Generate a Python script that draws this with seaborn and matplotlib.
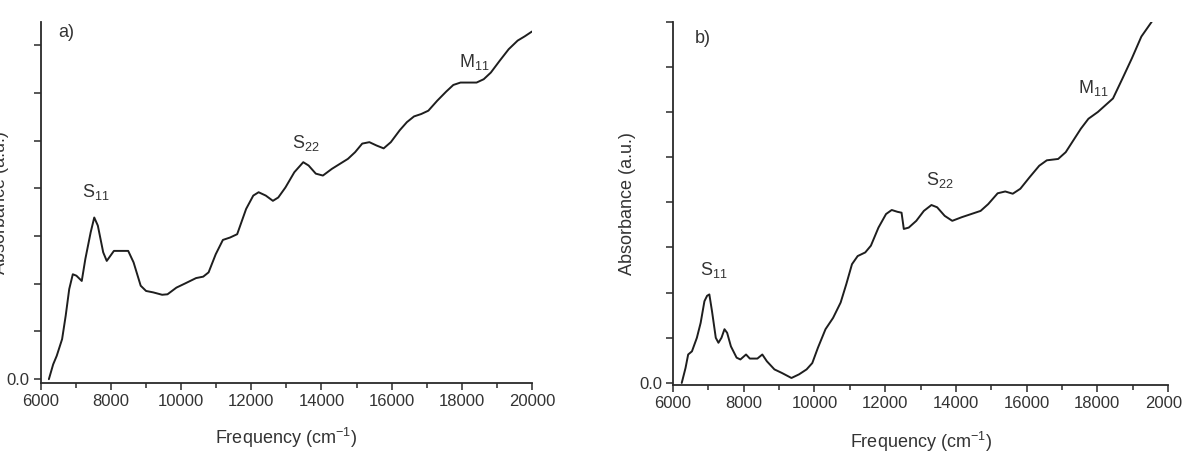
import numpy as np
import matplotlib
matplotlib.use("Agg")
import matplotlib.pyplot as plt
import seaborn as sns
from matplotlib.ticker import MultipleLocator, FixedLocator, FuncFormatter

# panel a) spectrum (y in tick units)
freq_a = [6234, 6356, 6458, 6611, 6713, 6814, 6916, 7018, 7171, 7273,
          7425, 7527, 7629, 7782, 7883, 8087, 8291, 8494, 8647, 8850,
          9003, 9207, 9461, 9614, 9868, 10123, 10428, 10632, 10785, 10988,
          11192, 11395, 11599, 11854, 12058, 12210, 12414, 12617, 12770, 12974,
          13228, 13482, 13635, 13839, 14042, 14297, 14602, 14755, 14959, 15162,
          15366, 15570, 15773, 15977, 16231, 16435, 16638, 16842, 17046, 17300,
          17554, 17758, 17962, 18165, 18420, 18624, 18827, 19082, 19336, 19591,
          19794, 19998]
abs_a = [0.0, 0.31, 0.49, 0.84, 1.33, 1.89, 2.20, 2.17, 2.06, 2.52,
         3.08, 3.39, 3.22, 2.66, 2.48, 2.69, 2.69, 2.69, 2.45, 1.96,
         1.85, 1.82, 1.77, 1.78, 1.92, 2.01, 2.12, 2.15, 2.24, 2.62,
         2.92, 2.97, 3.04, 3.57, 3.85, 3.92, 3.85, 3.74, 3.81, 4.02,
         4.34, 4.55, 4.48, 4.31, 4.27, 4.41, 4.55, 4.62, 4.76, 4.94,
         4.97, 4.90, 4.84, 4.97, 5.22, 5.39, 5.51, 5.56, 5.63, 5.84,
         6.03, 6.17, 6.22, 6.22, 6.22, 6.29, 6.43, 6.68, 6.92, 7.10,
         7.19, 7.29]

# panel b) spectrum
freq_b = [6246, 6353, 6428, 6535, 6674, 6781, 6888, 6963, 7027, 7102,
          7209, 7284, 7370, 7455, 7530, 7637, 7798, 7905, 8065, 8172,
          8386, 8525, 8654, 8868, 9082, 9349, 9563, 9777, 9938, 10098,
          10312, 10526, 10740, 10901, 11061, 11222, 11436, 11596, 11810, 12024,
          12185, 12345, 12463, 12527, 12666, 12880, 13094, 13308, 13469, 13683,
          13897, 14164, 14432, 14699, 14913, 15181, 15395, 15608, 15822, 16089,
          16357, 16571, 16892, 17106, 17320, 17534, 17748, 18015, 18229, 18443,
          18710, 18978, 19245, 19540]
abs_b = [0.0, 0.33, 0.63, 0.70, 1.00, 1.33, 1.81, 1.93, 1.96, 1.59,
         1.00, 0.89, 1.00, 1.19, 1.11, 0.81, 0.56, 0.52, 0.63, 0.54,
         0.54, 0.63, 0.48, 0.30, 0.22, 0.11, 0.19, 0.30, 0.44, 0.78,
         1.19, 1.44, 1.78, 2.19, 2.63, 2.81, 2.89, 3.04, 3.44, 3.74,
         3.83, 3.79, 3.77, 3.41, 3.44, 3.59, 3.81, 3.94, 3.89, 3.70,
         3.59, 3.67, 3.74, 3.81, 3.96, 4.20, 4.24, 4.19, 4.30, 4.56,
         4.81, 4.93, 4.96, 5.11, 5.37, 5.63, 5.85, 6.00, 6.15, 6.30,
         6.74, 7.19, 7.67, 8.00]

# peak labels: (text, x, y)
labels_a = [("S$_{11}$", 7171, 3.92), ("S$_{22}$", 13160, 4.95), ("M$_{11}$", 17930, 6.65)]
labels_b = [("S$_{11}$", 6764, 2.50), ("S$_{22}$", 13155, 4.50), ("M$_{11}$", 17454, 6.54)]

sns.set_style("ticks")
plt.rcParams["font.family"] = ["Liberation Sans", "DejaVu Sans"]
plt.rcParams["mathtext.fontset"] = "custom"
plt.rcParams["mathtext.rm"] = "Liberation Sans"
plt.rcParams["mathtext.it"] = "Liberation Sans:italic"
plt.rcParams["mathtext.bf"] = "Liberation Sans:bold"

txt = "#333333"
fig = plt.figure(figsize=(11.82, 4.63), dpi=100)
ax_a = fig.add_axes([0.0344, 0.1728, 0.4157, 0.7797])
ax_b = fig.add_axes([0.5694, 0.1685, 0.4188, 0.7847])

panels = [
    (ax_a, freq_a, abs_a, labels_a, "a)", 6493, 7.27, (-0.08, 7.49), range(0, 8), -0.064, -0.118),
    (ax_b, freq_b, abs_b, labels_b, "b)", 6622, 7.62, (-0.045, 8.0), range(0, 9), -0.075, -0.125),
]

for ax, fx, fy, labs, tag, tx, ty, ylim, yt, ylab_x, xlab_y in panels:
    sns.lineplot(x=fx, y=fy, ax=ax, color="#1e1e1e", linewidth=1.4, estimator=None)
    ax.set_xlim(6000, 20000)
    ax.set_ylim(*ylim)
    ax.xaxis.set_major_locator(MultipleLocator(2000))
    ax.xaxis.set_minor_locator(MultipleLocator(1000))
    ax.yaxis.set_major_locator(FixedLocator(list(yt)))
    ax.yaxis.set_major_formatter(FuncFormatter(lambda v, p: "0.0" if v == 0 else ""))
    sns.despine(ax=ax)
    for s in ("left", "bottom"):
        ax.spines[s].set_linewidth(1.3)
        ax.spines[s].set_color("#2a2a2a")
    ax.tick_params(which="major", length=5, width=1.1, color="#2a2a2a",
                   labelsize=12, labelcolor=txt, pad=3)
    ax.tick_params(which="minor", length=3.5, width=1.1, color="#2a2a2a")
    ax.set_xlabel("Frequency (cm$^{-1}$)", fontsize=13, color=txt)
    ax.set_ylabel("Absorbance (a.u.)", fontsize=13, color=txt)
    ax.xaxis.set_label_coords(0.5, xlab_y)
    ax.yaxis.set_label_coords(ylab_x, 0.5)
    ax.text(tx, ty, tag, fontsize=13, color=txt, va="center", ha="left")
    for s, lx, ly in labs:
        ax.text(lx, ly, s, fontsize=13, color=txt, va="center", ha="left")

fig.savefig("out.png", dpi=100)
